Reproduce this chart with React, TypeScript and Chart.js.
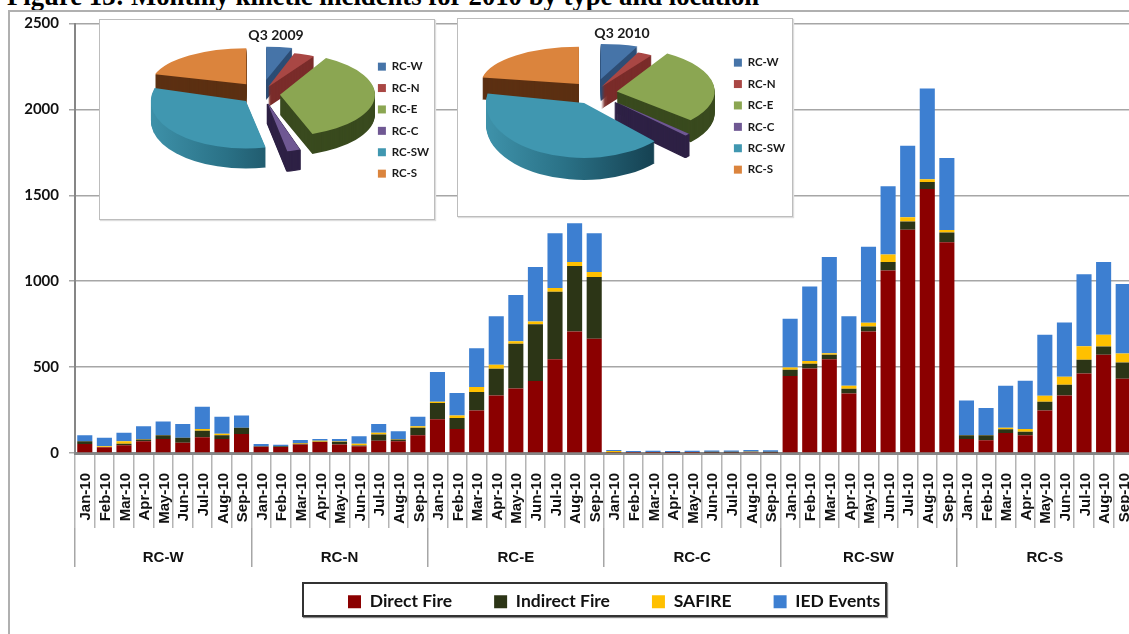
import React, { useEffect, useRef } from "react";
import { Chart, registerables } from "chart.js";

Chart.register(...registerables);

const months = ["Jan-10", "Feb-10", "Mar-10", "Apr-10", "May-10", "Jun-10", "Jul-10", "Aug-10", "Sep-10"];
const regions = ["RC-W", "RC-N", "RC-E", "RC-C", "RC-SW", "RC-S"];
const categoryLabels = regions.flatMap(() => months);

const directFire = [
  52, 33, 45, 68, 81, 60, 91, 81, 110,
  37, 35, 50, 64, 50, 39, 72, 68, 103,
  196, 140, 248, 335, 376, 419, 545, 707, 665,
  3, 1, 2, 2, 2, 3, 3, 6, 3,
  448, 492, 545, 347, 707, 1062, 1300, 1537, 1227,
  81, 74, 116, 103, 248, 335, 463, 572, 432,
];
const indirectFire = [
  16, 0, 9, 10, 22, 29, 39, 22, 37,
  2, 4, 4, 2, 16, 4, 35, 10, 44,
  95, 63, 107, 155, 260, 331, 393, 382, 360,
  2, 1, 1, 2, 1, 4, 4, 2, 4,
  37, 27, 27, 27, 29, 50, 47, 41, 56,
  22, 29, 22, 21, 50, 62, 80, 48, 95,
];
const safire = [
  0, 6, 14, 3, 2, 0, 10, 9, 0,
  1, 1, 4, 6, 2, 11, 11, 3, 8,
  7, 16, 29, 24, 15, 16, 23, 23, 29,
  7, 1, 1, 1, 1, 1, 1, 1, 1,
  13, 16, 9, 17, 22, 43, 25, 15, 15,
  2, 2, 9, 16, 35, 47, 79, 68, 52,
];
const iedEvents = [
  35, 50, 50, 74, 79, 80, 129, 99, 72,
  12, 8, 18, 9, 13, 43, 51, 45, 56,
  173, 130, 225, 282, 268, 317, 318, 225, 225,
  5, 9, 9, 7, 9, 7, 7, 8, 8,
  283, 434, 560, 405, 442, 397, 417, 529, 419,
  201, 157, 244, 281, 355, 316, 419, 424, 404,
];

const pie2009 = [16, 13, 131, 8, 118, 74];
const pie2010 = [22, 9, 100, 3, 146, 80];
const pieColors = ["#4674A8", "#A94744", "#8BA652", "#6F5893", "#4097B0", "#DB843D"];
const pieSides = ["#2D4D75", "#7A2C2A", "#394A1E", "#2E2145", "#1F5A6E", "#5C3012"];
const pieOrder = [0, 1, 5, 2, 3, 4];

const placePlugin = {
  id: "place",
  afterLayout(chart: any, _a: any, o: any) {
    if (chart.legend && o.legendLeft !== undefined) {
      chart.legend.left = o.legendLeft;
      chart.legend.right = 3000;
      chart.legend.top = o.legendTop;
      chart.legend.bottom = 3000;
    }
    if (chart.titleBlock && o.titleCenter !== undefined) {
      const w = chart.titleBlock.right - chart.titleBlock.left;
      chart.titleBlock.left = o.titleCenter - w / 2;
      chart.titleBlock.right = o.titleCenter + w / 2;
      chart.titleBlock.top = o.titleTop;
    }
  },
};

const tiltPlugin = {
  id: "tilt",
  beforeDatasetsDraw(chart: any, _a: any, o: any) {
    const ctx = chart.ctx;
    const arcs = chart.getDatasetMeta(0).data;
    pieOrder.forEach((i) => {
      const arc = arcs[i];
      const mid = (arc.startAngle + arc.endAngle) / 2;
      const ex = Math.cos(mid) * o.explode[i];
      const ey = Math.sin(mid) * o.explode[i] * o.baseSquash;
      const place = (down: number) => {
        ctx.save();
        ctx.translate(o.cx + ex, o.cy + ey + down);
        ctx.scale(1, o.squash[i]);
        ctx.translate(-arc.x, -arc.y);
      };
      let fill: any = pieSides[i];
      if (i === 4) {
        fill = ctx.createLinearGradient(arc.x - 100, 0, arc.x + 80, 0);
        fill.addColorStop(0, "#3F93AB");
        fill.addColorStop(0.45, "#2A7186");
        fill.addColorStop(1, "#133C4C");
      }
      const side = Object.create(arc);
      side.options = {
        ...arc.options,
        backgroundColor: fill,
        borderColor: fill,
        borderWidth: i === 3 ? 2 : 0,
      };
      for (let d = o.depth; d >= 1; d--) {
        place(d);
        side.draw(ctx);
        ctx.restore();
      }
      place(0);
      arc.draw(ctx);
      ctx.restore();
    });
    return false;
  },
};

function makePie(canvas: HTMLCanvasElement, title: string, values: number[], radius: number, tilt: any, place: any) {
  return new Chart(canvas, {
    type: "pie",
    data: {
      labels: regions,
      datasets: [{ data: values, backgroundColor: pieColors, borderWidth: 0 }],
    },
    options: {
      animation: false,
      responsive: false,
      radius,
      layout: { padding: 0 },
      plugins: {
        tooltip: { enabled: false },
        title: {
          display: true,
          text: title,
          color: "#1a1a1a",
          padding: 0,
          font: { family: "Lato", weight: "bold", size: 14 },
        },
        legend: {
          position: "right",
          align: "start",
          labels: {
            boxWidth: 8,
            boxHeight: 8,
            padding: 9.9,
            color: "#1a1a1a",
            font: { family: "Lato", weight: "bold", size: 11.5 },
          },
        },
        tilt,
        place,
      },
    } as any,
    plugins: [tiltPlugin, placePlugin] as any,
  });
}

export default function App() {
  const mainRef = useRef<HTMLCanvasElement>(null);
  const pieARef = useRef<HTMLCanvasElement>(null);
  const pieBRef = useRef<HTMLCanvasElement>(null);

  useEffect(() => {
    document.body.style.margin = "0";
    document.body.style.overflow = "hidden";
    const main = new Chart(mainRef.current!, {
      type: "bar",
      data: {
        labels: categoryLabels,
        datasets: [
          { label: "Direct Fire", data: directFire, backgroundColor: "#8B0000" },
          { label: "Indirect Fire", data: indirectFire, backgroundColor: "#2C3516" },
          { label: "SAFIRE", data: safire, backgroundColor: "#FFC000" },
          { label: "IED Events", data: iedEvents, backgroundColor: "#3D7FD1" },
        ],
      },
      options: {
        animation: false,
        responsive: false,
        layout: { padding: { top: 23.5, left: 0, right: 0, bottom: 63.5 } },
        datasets: { bar: { categoryPercentage: 1, barPercentage: 0.77 } },
        scales: {
          x: {
            stacked: true,
            weight: 0,
            offset: true,
            grid: { offset: true, drawOnChartArea: false, tickLength: 75, color: "#B4B4B4", lineWidth: 1.5 },
            border: { color: "#868686", width: 3 },
            ticks: {
              autoSkip: false,
              maxRotation: 90,
              minRotation: 90,
              padding: -55,
              labelOffset: 1.5,
              color: "#111",
              font: { family: "Liberation Sans", weight: "bold", size: 15 },
            },
            afterFit(s: any) { s.height = 75; },
          },
          x2: {
            axis: "x",
            type: "category",
            labels: regions,
            position: "bottom",
            weight: 1,
            offset: true,
            grid: { offset: true, drawOnChartArea: false, tickLength: 39, color: "#A6A6A6", lineWidth: 1.5 },
            border: { display: false },
            ticks: {
              autoSkip: false,
              maxRotation: 0,
              padding: -18,
              color: "#111",
              font: { family: "Liberation Sans", weight: "bold", size: 15 },
            },
            afterFit(s: any) { s.height = 39; },
          },
          y: {
            stacked: true,
            min: 0,
            max: 2500,
            grid: { color: "#A6A6A6", lineWidth: 1.5, tickLength: 6 },
            border: { color: "#868686", width: 2 },
            ticks: {
              stepSize: 500,
              padding: 10,
              color: "#111",
              font: { family: "Lato", weight: "bold", size: 15 },
              callback: (v: any) => String(v),
            },
            afterFit(s: any) { s.width = 75; },
          },
        },
        plugins: {
          tooltip: { enabled: false },
          legend: {
            position: "bottom",
            align: "start",
            labels: {
              boxWidth: 13,
              boxHeight: 13,
              padding: 42,
              color: "#111",
              font: { family: "Lato", weight: "bold", size: 17.5 },
            },
          },
          place: { legendLeft: 306, legendTop: 551 },
        },
      } as any,
      plugins: [placePlugin] as any,
    });

    const pieA = makePie(
      pieARef.current!, "Q3 2009", pie2009, 95,
      { cx: 162, cy: 74, baseSquash: 0.47, depth: 20, explode: [30, 16, 18, 20, 22, 26], squash: [0.35, 0.37, 0.44, 0.52, 0.5, 0.38] },
      { legendLeft: 268, legendTop: 31, titleCenter: 176, titleTop: 7 },
    );
    const pieB = makePie(
      pieBRef.current!, "Q3 2010", pie2010, 98,
      { cx: 137, cy: 74, baseSquash: 0.47, depth: 22, explode: [30, 14, 22, 27, 24, 25], squash: [0.36, 0.38, 0.45, 0.5, 0.56, 0.38] },
      { legendLeft: 266, legendTop: 28, titleCenter: 164, titleTop: 6 },
    );
    return () => {
      main.destroy();
      pieA.destroy();
      pieB.destroy();
    };
  }, []);

  const inset: React.CSSProperties = {
    position: "absolute",
    boxSizing: "border-box",
    background: "#fff",
    border: "1px solid #BDBDBD",
    boxShadow: "1px 1px 1px #DDD",
  };

  return (
    <div style={{ position: "fixed", left: 0, top: 0, width: 1129, height: 634, overflow: "hidden", background: "#fff" }}>
      <div
        style={{
          position: "absolute", left: 7, top: -19, whiteSpace: "nowrap",
          font: "bold 26.7px 'Liberation Serif'", color: "#000",
        }}
      >
        Figure 13: Monthly kinetic incidents for 2010 by type and location
      </div>
      <div style={{ position: "absolute", left: 8, top: 10, width: 1300, height: 800, border: "2px solid #B0B0B0" }} />
      <div
        style={{
          position: "absolute", boxSizing: "border-box", left: 302, top: 582, width: 585, height: 35,
          border: "2px solid #333", boxShadow: "1px 1px 1px #888", background: "#fff",
        }}
      />
      <canvas ref={mainRef} width={1133} height={700} style={{ position: "absolute", left: 0, top: 0, display: "block" }} />
      <div style={{ ...inset, left: 99, top: 19, width: 336, height: 201 }}>
        <canvas ref={pieARef} width={334} height={199} style={{ display: "block" }} />
      </div>
      <div style={{ ...inset, left: 457, top: 18, width: 336, height: 199 }}>
        <canvas ref={pieBRef} width={334} height={197} style={{ display: "block" }} />
      </div>
    </div>
  );
}
